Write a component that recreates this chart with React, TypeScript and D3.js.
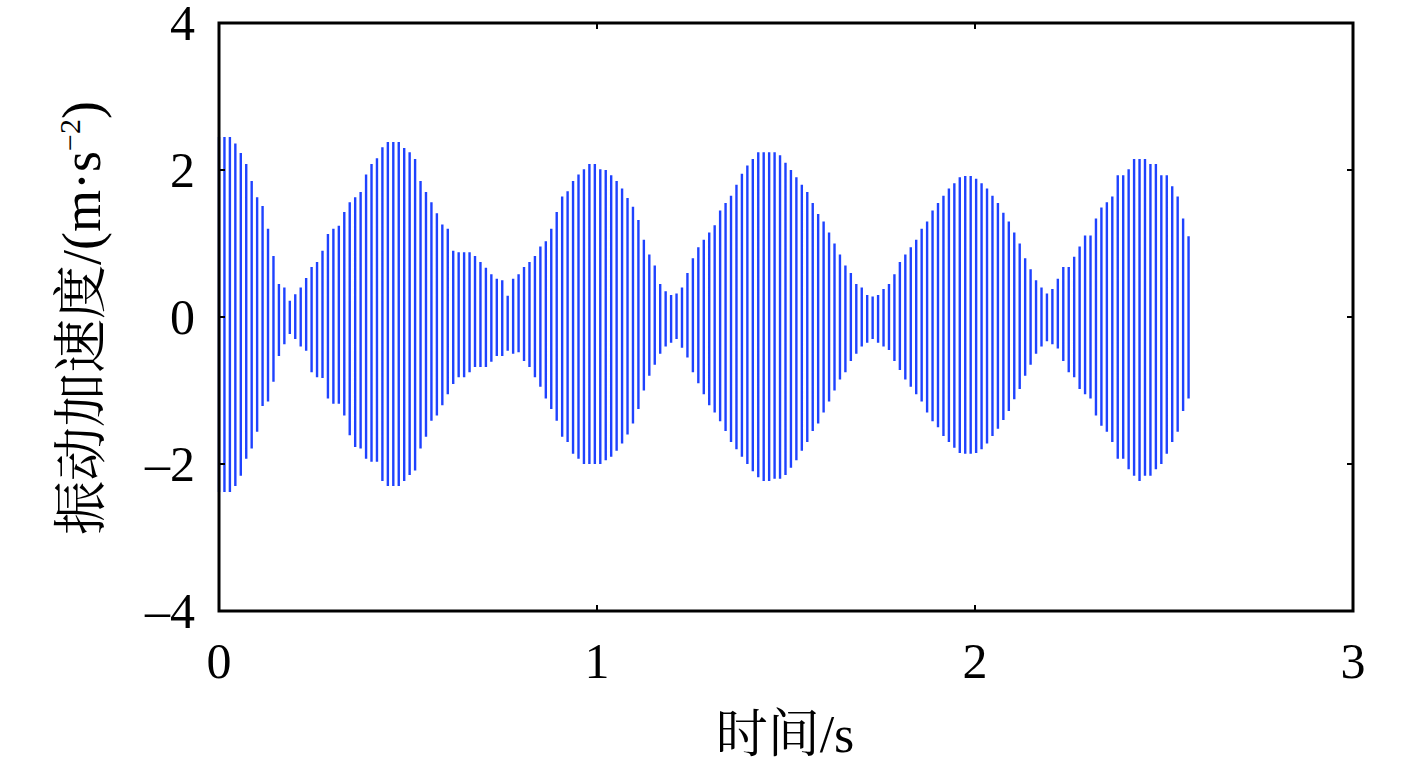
import * as d3 from 'd3';

// vibration acceleration record, one entry per stroke of the trace (m/s^2)
const sampleInterval = 0.01441; // s between strokes

const upper = [
  2.45, 2.45, 2.45, 2.36, 2.23, 2.08, 1.85, 1.63, 1.51, 1.2, 0.83, 0.45, 0.4, 0.22, 0.31, 0.4, 0.53,
  0.68, 0.75, 0.9, 1.13, 1.2, 1.24, 1.43, 1.56, 1.63, 1.7, 1.94, 2.08, 2.16, 2.31, 2.38, 2.38, 2.38,
  2.3, 2.24, 2.15, 1.85, 1.7, 1.56, 1.41, 1.26, 1.2, 0.9, 0.88, 0.88, 0.88, 0.83, 0.75, 0.67, 0.58,
  0.52, 0.5, 0.29, 0.52, 0.58, 0.68, 0.75, 0.83, 0.96, 1.03, 1.2, 1.43, 1.64, 1.71, 1.85, 1.94, 2.01,
  2.08, 2.08, 2.01,
  2.0, 1.93, 1.85, 1.75, 1.62, 1.5, 1.32, 1.05, 0.85, 0.7, 0.45, 0.35, 0.3, 0.32, 0.4, 0.6, 0.8, 0.95,
  1.05, 1.15, 1.25, 1.45, 1.55, 1.65, 1.8, 1.95, 2.06, 2.15, 2.24, 2.24, 2.24, 2.24, 2.2, 2.1, 2.0,
  1.9, 1.8, 1.7, 1.55, 1.4, 1.3, 1.15, 1.0, 0.85, 0.7, 0.6, 0.45, 0.4, 0.3, 0.28, 0.3, 0.38, 0.45,
  0.58, 0.75, 0.85, 0.95, 1.05, 1.2, 1.3, 1.45, 1.55, 1.65, 1.75, 1.82, 1.9, 1.92, 1.92, 1.88, 1.82,
  1.75, 1.65, 1.55, 1.42, 1.3, 1.15, 1.0, 0.8, 0.65, 0.5, 0.4, 0.32,
  0.38, 0.52, 0.68, 0.68, 0.82, 0.96, 1.11, 1.11, 1.34, 1.49, 1.56, 1.64, 1.93, 1.93, 2.01, 2.15,
  2.15, 2.15, 2.08, 2.08, 1.93, 1.93, 1.78, 1.64, 1.34, 1.1,
];

const lower = [
  -2.38, -2.38, -2.38, -2.3, -2.16, -1.93, -1.79, -1.56, -1.21, -1.15, -0.88, -0.53, -0.37, -0.23,
  -0.3, -0.4, -0.46, -0.75, -0.82, -0.83, -1.11, -1.18, -1.18, -1.34, -1.61, -1.77, -1.79, -1.93,
  -1.97, -1.97, -2.23, -2.3, -2.3, -2.3,
  -2.23, -2.15, -2.09, -1.79, -1.63, -1.41, -1.34, -1.2, -1.05, -0.91, -0.82, -0.82, -0.75, -0.68,
  -0.68, -0.68, -0.61, -0.53, -0.53, -0.46, -0.5, -0.48, -0.6, -0.68, -0.82, -0.95, -1.11, -1.25,
  -1.41, -1.63, -1.7, -1.86, -1.93, -2.0, -2.0, -2.0, -2.0,
  -1.95, -1.9, -1.82, -1.72, -1.6, -1.45, -1.25, -1.0, -0.8, -0.65, -0.5, -0.4, -0.35, -0.3, -0.42,
  -0.55, -0.75, -0.9, -1.05, -1.2, -1.3, -1.42, -1.55, -1.7, -1.8, -1.9, -2.0, -2.1, -2.18, -2.23,
  -2.23, -2.2, -2.2, -2.15, -2.05, -1.95, -1.82, -1.7, -1.55, -1.45, -1.3, -1.15, -1.0, -0.85, -0.75,
  -0.6, -0.5, -0.4, -0.35, -0.3, -0.35, -0.4, -0.45, -0.6, -0.72, -0.85, -0.95, -1.05, -1.15, -1.3,
  -1.42, -1.5, -1.62, -1.7, -1.78, -1.85, -1.86, -1.86, -1.85, -1.8, -1.72, -1.62, -1.52, -1.4,
  -1.28, -1.12, -0.98, -0.8, -0.65, -0.5, -0.4, -0.33,
  -0.37, -0.43, -0.6, -0.75, -0.82, -0.98, -1.05, -1.11, -1.34, -1.48, -1.56, -1.7, -1.93, -1.93,
  -2.07, -2.16, -2.23, -2.16, -2.16, -2.07, -2.0, -1.86, -1.7, -1.56, -1.28, -1.11,
];

const xTicks = [0, 1, 2, 3];
const yTicks = [-4, -2, 0, 2, 4];
const xTitle = '时间/s';

const FONT = "'Liberation Serif', 'Times New Roman', 'Noto Serif CJK SC', 'Noto Sans CJK SC', serif";
const W = 1417;
const H = 763;
const plot = { left: 219, right: 1353, top: 23, bottom: 611 };

export default function App() {
  const x = d3.scaleLinear().domain([0, 3]).range([plot.left, plot.right]);
  const y = d3.scaleLinear().domain([-4, 4]).range([plot.bottom, plot.top]);

  // each stroke runs from the positive peak to the negative peak
  const strokes = upper.map((u, i) => {
    const t = i * sampleInterval;
    return d3.line<[number, number]>()
      .x(d => x(d[0]))
      .y(d => y(d[1]))([[t, u], [t, lower[i]]]);
  }).join('');

  const tickLen = 6;
  const fmt = (v: number) => (v < 0 ? '–' + Math.abs(v) : String(v));

  return (
    <svg width={W} height={H} style={{ position: 'absolute', left: 0, top: 0, background: '#fff' }}>
      <path d={strokes} fill="none" stroke="#1e42ff" strokeWidth={2.4} />

      {/* ticks on all four sides, pointing inward */}
      <g stroke="#000" strokeWidth={2}>
        {xTicks.map(v => (
          <g key={'xt' + v}>
            <line x1={x(v)} x2={x(v)} y1={plot.bottom} y2={plot.bottom - tickLen} />
            <line x1={x(v)} x2={x(v)} y1={plot.top} y2={plot.top + tickLen} />
          </g>
        ))}
        {yTicks.map(v => (
          <g key={'yt' + v}>
            <line x1={plot.left} x2={plot.left + tickLen} y1={y(v)} y2={y(v)} />
            <line x1={plot.right} x2={plot.right - tickLen} y1={y(v)} y2={y(v)} />
          </g>
        ))}
      </g>

      <rect x={plot.left} y={plot.top} width={plot.right - plot.left} height={plot.bottom - plot.top}
        fill="none" stroke="#000" strokeWidth={3} />

      <g fontFamily={FONT} fontSize={50} fill="#000">
        {xTicks.map(v => (
          <text key={'xl' + v} x={x(v)} y={plot.bottom + 67} textAnchor="middle">{fmt(v)}</text>
        ))}
        {yTicks.map(v => (
          <text key={'yl' + v} x={plot.left - 24} y={y(v) + 17} textAnchor="end">{fmt(v)}</text>
        ))}
      </g>

      <text x={785} y={752} textAnchor="middle" fontFamily={FONT} fontSize={52} fill="#000">{xTitle}</text>

      <text transform="translate(100,318) rotate(-90)" textAnchor="middle" fontFamily={FONT} fontSize={54} fill="#000">
        振动加速度/(m·s<tspan dy={-20} fontSize={30}>−2</tspan><tspan dy={20}>)</tspan>
      </text>
    </svg>
  );
}
